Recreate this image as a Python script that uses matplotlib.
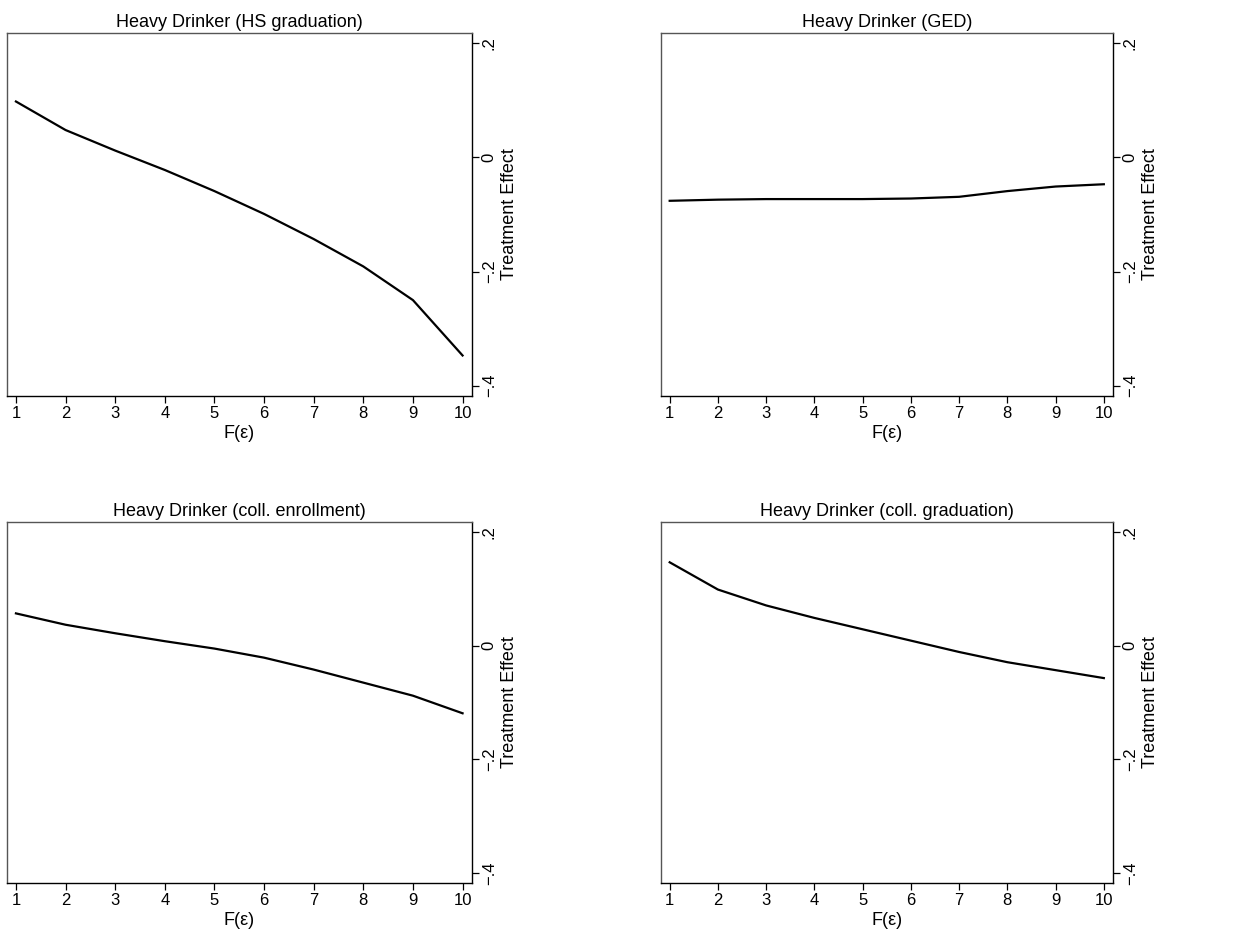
import numpy as np
import matplotlib.pyplot as plt

plt.rcParams['font.family'] = ['Liberation Sans', 'DejaVu Sans']

# ==================== Data ====================
deciles = np.arange(1, 11)

hs_grad = [0.098, 0.048, 0.012, -0.022, -0.059, -0.099, -0.143, -0.191, -0.250, -0.347]
ged = [-0.076, -0.074, -0.073, -0.073, -0.073, -0.072, -0.069, -0.059, -0.051, -0.047]
coll_enroll = [0.057, 0.037, 0.022, 0.008, -0.005, -0.021, -0.042, -0.065, -0.088, -0.119]
coll_grad = [0.147, 0.099, 0.071, 0.049, 0.029, 0.009, -0.011, -0.029, -0.043, -0.057]

titles = ["Heavy Drinker (HS graduation)", "Heavy Drinker (GED)",
          "Heavy Drinker (coll. enrollment)", "Heavy Drinker (coll. graduation)"]
series = [hs_grad, ged, coll_enroll, coll_grad]

yticks = [-0.4, -0.2, 0, 0.2]
ytick_labels = ["\u2212.4", "\u2212.2", "0", ".2"]

# ==================== Layout (pixel boxes) ====================
W, H = 1255, 940
boxes = [(7, 33, 472, 396), (661, 33, 1113, 396),
         (7, 522, 472, 883), (661, 522, 1113, 883)]

fig = plt.figure(figsize=(W / 100, H / 100), dpi=100)

for (l, t, r, b), title, vals in zip(boxes, titles, series):
    ax = fig.add_axes([l / W, 1 - b / H, (r - l) / W, (b - t) / H])
    ax.plot(deciles, vals, color='black', linewidth=1.6)

    ax.set_xlim(0.82, 10.19)
    ax.set_ylim(-0.418, 0.218)
    ax.set_xticks(deciles)
    ax.set_yticks(yticks)
    ax.set_yticklabels(ytick_labels, rotation=90, va='center')

    ax.yaxis.tick_right()
    ax.yaxis.set_label_position('right')
    ax.tick_params(axis='both', length=5, width=0.9, labelsize=12, colors='black')
    ax.tick_params(axis='y', pad=2)
    ax.tick_params(axis='x', pad=2)

    ax.set_ylabel("Treatment Effect", fontsize=13, rotation=90, labelpad=3)
    ax.set_xlabel("F(\u03b5)", fontsize=13, labelpad=3)
    ax.set_title(title, fontsize=13, pad=4)

    for side in ['top', 'left']:
        ax.spines[side].set_color('#555555')
        ax.spines[side].set_linewidth(1.0)
    for side in ['right', 'bottom']:
        ax.spines[side].set_color('black')
        ax.spines[side].set_linewidth(1.0)

plt.savefig("out.png", dpi=100, facecolor='white')
